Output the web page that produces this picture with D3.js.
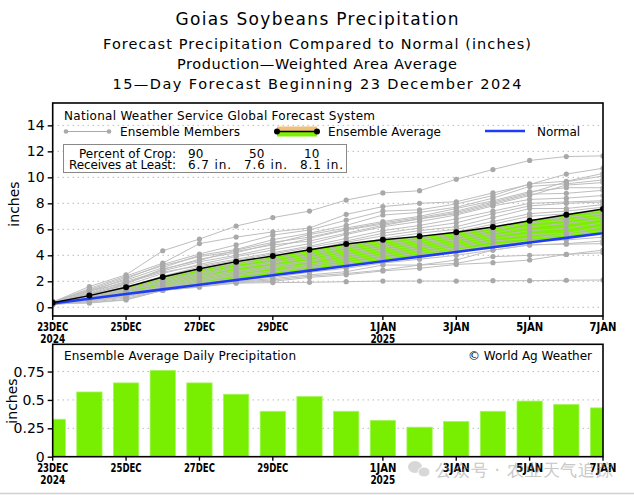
<!DOCTYPE html>
<html><head><meta charset="utf-8">
<script src="https://cdn.jsdelivr.net/npm/d3@7"></script>
<style>
body{margin:0;background:#fff}
svg{display:block}
text{font-family:"DejaVu Sans","Liberation Sans",sans-serif;fill:#000}
</style>
</head><body>
<svg id="c" width="634" height="495"></svg>
<script>
// ---------------- DATA ----------------
const dates = ["2024-12-23","2024-12-24","2024-12-25","2024-12-26","2024-12-27","2024-12-28","2024-12-29","2024-12-30",
               "2024-12-31","2025-01-01","2025-01-02","2025-01-03","2025-01-04","2025-01-05","2025-01-06","2025-01-07"];
const dailyAvg = [0.33,0.57,0.65,0.76,0.65,0.55,0.40,0.53,0.40,0.32,0.26,0.31,0.40,0.49,0.46,0.43];
const cumAvg   = [0.35,0.90,1.54,2.33,2.97,3.51,3.95,4.43,4.87,5.20,5.46,5.77,6.18,6.66,7.12,7.56];
const normal   = [0.30,0.66,1.02,1.38,1.74,2.10,2.46,2.82,3.18,3.54,3.90,4.26,4.62,4.98,5.34,5.70];
const members = [
  [0.40,1.60,2.50,4.35,5.25,6.25,6.90,7.40,8.25,8.80,8.97,9.85,10.60,11.30,11.60,11.65],
  [0.35,1.45,2.40,3.40,4.90,5.40,5.80,6.10,7.15,7.75,8.00,8.12,8.80,9.45,10.25,10.70],
  [0.30,1.20,2.20,3.30,4.10,4.80,5.55,5.95,6.70,7.40,7.50,7.95,8.60,9.50,9.70,10.30],
  [0.45,1.30,2.10,3.05,4.00,4.45,5.20,5.70,6.30,7.10,7.30,7.70,8.40,9.30,9.50,9.80],
  [0.25,0.95,1.80,2.90,3.70,4.20,4.90,5.60,6.10,6.60,7.00,7.60,8.20,8.90,9.20,9.20],
  [0.35,1.10,2.00,2.80,3.50,4.00,4.60,5.30,5.95,6.40,6.80,7.30,8.00,8.70,8.77,9.00],
  [0.30,1.00,1.70,2.60,3.30,3.90,4.40,4.90,5.60,6.20,6.60,7.10,7.80,8.30,8.40,8.60],
  [0.40,1.25,1.90,2.70,3.20,3.70,4.20,4.70,5.30,5.90,6.30,6.80,7.40,8.00,8.10,8.20],
  [0.20,0.80,1.50,2.40,3.10,3.60,4.10,4.60,5.10,5.70,6.10,6.50,7.20,7.80,8.00,8.10],
  [0.35,0.90,1.60,2.20,2.90,3.40,3.90,4.40,5.00,5.50,5.90,6.20,6.90,7.60,7.60,7.90],
  [0.30,0.85,1.40,2.10,2.70,3.30,3.70,4.20,4.70,5.30,5.70,6.00,6.60,7.20,7.40,7.70],
  [0.25,0.70,1.30,2.00,2.60,3.10,3.50,4.00,4.60,5.00,5.40,5.80,6.40,7.00,7.20,7.40],
  [0.30,0.75,1.20,1.90,2.50,3.00,3.40,3.80,4.40,4.80,5.20,5.60,6.10,6.70,6.90,7.20],
  [0.45,0.80,1.35,1.80,2.40,2.80,3.20,3.60,4.20,4.60,5.00,5.40,5.90,6.50,6.70,7.00],
  [0.20,0.60,1.10,1.70,2.30,2.70,3.10,3.50,4.00,4.40,4.80,5.20,5.70,6.20,6.45,6.80],
  [0.30,0.65,1.00,1.60,2.20,2.60,3.00,3.30,3.80,4.20,4.60,5.00,5.50,5.90,6.07,6.50],
  [0.35,0.70,1.15,1.55,2.10,2.50,2.80,3.20,3.60,4.00,4.40,4.80,5.30,5.60,5.69,6.20],
  [0.25,0.55,0.95,1.50,2.00,2.40,2.70,3.10,3.40,3.80,4.20,4.60,5.10,5.30,5.60,5.90],
  [0.30,0.60,0.90,1.45,1.90,2.20,2.50,2.90,3.20,3.60,4.00,4.40,4.80,5.10,5.18,5.40],
  [0.40,0.50,0.85,1.40,1.80,2.10,2.30,2.70,3.00,3.40,3.70,4.00,4.40,4.80,4.90,5.10],
  [0.20,0.45,0.80,1.35,1.70,2.00,2.20,2.50,2.74,3.25,3.25,3.64,4.40,4.80,4.85,4.90],
  [0.30,0.40,0.70,1.30,1.60,1.95,2.10,2.40,2.60,2.87,3.25,3.38,3.90,4.00,4.07,4.40],
  [0.25,0.35,0.60,1.30,1.55,1.90,2.00,2.30,2.50,2.80,3.00,3.30,3.43,3.64,4.07,4.20],
  [0.30,0.33,0.56,1.30,1.60,1.85,1.90,1.92,1.97,2.02,2.02,2.02,2.05,2.05,2.08,2.10],
  [0.35,1.05,1.85,2.95,3.60,4.40,5.00,5.40,6.00,6.50,6.90,7.40,8.10,8.80,9.66,10.10],
  [0.40,1.35,2.30,3.20,3.90,4.30,4.80,5.10,5.70,6.30,6.80,7.20,7.90,8.60,9.40,9.60]
];
const xTickDates  = ["2024-12-23","2024-12-25","2024-12-27","2024-12-29","2025-01-01","2025-01-03","2025-01-05","2025-01-07"];
const xTickLabels = ["23DEC","25DEC","27DEC","29DEC","1JAN","3JAN","5JAN","7JAN"];
const xTickYears  = ["2024","","","","2025","","",""];
const topTicks = [0,2,4,6,8,10,12,14];
const botTicks = [0,0.25,0.5,0.75];
const botTickLabels = ["0","0.25","0.5","0.75"];
const titleLines = ["Goias Soybeans Precipitation",
  "Forecast Precipitation Compared to Normal (inches)",
  "Production\u2014Weighted Area Average",
  "15\u2014Day Forecast Beginning 23 December 2024"];
const pctCrop = ["90","50","10"];
const atLeast = ["6.7 in.","7.6 in.","8.1 in."];

// ---------------- DRAW ----------------
const svg = d3.select("#c");
const parse = d3.utcParse("%Y-%m-%d");
const D = dates.map(parse);
const L = 52.7, R = 603;
const x = d3.scaleUtc().domain([D[0], D[D.length-1]]).range([L, R]);

// titles
const tSpec = [{y:25,fs:17,w:283},{y:49,fs:14.5,w:428},{y:69,fs:14.5,w:280},{y:89,fs:14.5,w:409}];
titleLines.forEach((t,i)=>{
  svg.append("text").attr("x",317).attr("y",tSpec[i].y).attr("text-anchor","middle")
    .attr("font-size",tSpec[i].fs).attr("textLength",tSpec[i].w).attr("lengthAdjust","spacing").text(t);
});

// ---------- top plot ----------
const T0 = 103, T1 = 316;
const y = d3.scaleLinear().domain([-0.67, 15.72]).range([T1, T0]);
svg.append("defs").append("clipPath").attr("id","ct").append("rect")
  .attr("x",L).attr("y",T0).attr("width",R-L).attr("height",T1-T0);
svg.select("defs").append("clipPath").attr("id","cb").append("rect")
  .attr("x",L).attr("y",344.3).attr("width",R-L).attr("height",456.7-344.3);

const gT = svg.append("g");
// grid
gT.selectAll(".g").data(topTicks).join("line")
  .attr("x1",L).attr("x2",R).attr("y1",d=>y(d)).attr("y2",d=>y(d))
  .attr("stroke","#999").attr("stroke-width",1).attr("stroke-dasharray","1,4");

const plot = gT.append("g").attr("clip-path","url(#ct)");
// green area between average and normal
const area = d3.area().x((d,i)=>x(D[i])).y0((d,i)=>y(normal[i])).y1((d,i)=>y(cumAvg[i]));
plot.append("path").datum(cumAvg).attr("d",area).attr("fill","#7cf000");

// members
const line = d3.line().x((d,i)=>x(D[i])).y(d=>y(d));
plot.selectAll(".m").data(members).join("path").attr("d",line)
  .attr("fill","none").attr("stroke","#bdbdbd").attr("stroke-width",1);
members.forEach(m=>{
  plot.append("g").selectAll("circle").data(m).join("circle")
    .attr("cx",(d,i)=>x(D[i])).attr("cy",d=>y(d)).attr("r",2.6).attr("fill","#a9a9a9");
});
// normal
plot.append("path").datum(normal).attr("d",line).attr("fill","none").attr("stroke","#1f3cf5").attr("stroke-width",2.6);
// average
plot.append("path").datum(cumAvg).attr("d",line).attr("fill","none").attr("stroke","#000").attr("stroke-width",1.4);
plot.selectAll(".a").data(cumAvg).join("circle").attr("cx",(d,i)=>x(D[i])).attr("cy",d=>y(d)).attr("r",3).attr("fill","#000");

// frame
gT.append("rect").attr("x",L).attr("y",T0).attr("width",R-L).attr("height",T1-T0)
  .attr("fill","none").attr("stroke","#000").attr("stroke-width",1.6);

// y axis
const yAx = gT.append("g").attr("transform",`translate(${L},0)`)
  .call(d3.axisLeft(y).tickValues(topTicks).tickSize(5).tickPadding(3).tickFormat(d3.format("d")));
yAx.select(".domain").remove();
yAx.selectAll("text").attr("font-size",14).attr("font-family","Liberation Sans, Arial, sans-serif");
yAx.selectAll("line").attr("stroke-width",1.4);
svg.append("text").attr("transform","translate(19,204) rotate(-90)").attr("text-anchor","middle")
  .attr("font-size",14).text("inches");

// x axis labels
function xAxis(gy){
  const g = svg.append("g");
  xTickDates.forEach((s,i)=>{
    const xx = x(parse(s));
    g.append("line").attr("x1",xx).attr("x2",xx).attr("y1",gy).attr("y2",gy+4).attr("stroke","#000").attr("stroke-width",1.4);
    g.append("text").attr("x",xx).attr("y",gy+15).attr("text-anchor","middle")
      .attr("font-family","Liberation Sans, Arial, sans-serif").attr("font-weight","bold").attr("font-size",12)
      .attr("textLength",xTickLabels[i].length>4?31:27).attr("lengthAdjust","spacingAndGlyphs").text(xTickLabels[i]);
    if(xTickYears[i]) g.append("text").attr("x",xx).attr("y",gy+27).attr("text-anchor","middle")
      .attr("font-family","Liberation Sans, Arial, sans-serif").attr("font-weight","bold").attr("font-size",12)
      .attr("textLength",25).attr("lengthAdjust","spacingAndGlyphs").text(xTickYears[i]);
  });
}
xAxis(T1);

// legend
svg.append("text").attr("x",64).attr("y",119.5).attr("font-size",12).attr("textLength",311).attr("lengthAdjust","spacing")
  .text("National Weather Service Global Forecast System");
svg.append("line").attr("x1",66).attr("x2",109).attr("y1",131.5).attr("y2",131.5).attr("stroke","#aaa").attr("stroke-width",1);
[66,109].forEach(cx=>svg.append("circle").attr("cx",cx).attr("cy",131.5).attr("r",2.3).attr("fill","#aaa"));
svg.append("text").attr("x",120).attr("y",136).attr("font-size",12).attr("textLength",120).attr("lengthAdjust","spacing").text("Ensemble Members");
svg.append("rect").attr("x",277).attr("y",126.5).attr("width",40).attr("height",5).attr("fill","#f0c07a");
svg.append("rect").attr("x",277).attr("y",131.5).attr("width",40).attr("height",5).attr("fill","#7cf000");
svg.append("line").attr("x1",277).attr("x2",317).attr("y1",131.5).attr("y2",131.5).attr("stroke","#000").attr("stroke-width",1.4);
[277,317].forEach(cx=>svg.append("circle").attr("cx",cx).attr("cy",131.5).attr("r",3).attr("fill","#000"));
svg.append("text").attr("x",328).attr("y",136).attr("font-size",12).attr("textLength",113).attr("lengthAdjust","spacing").text("Ensemble Average");
svg.append("line").attr("x1",485).attr("x2",525).attr("y1",131).attr("y2",131).attr("stroke","#1f3cf5").attr("stroke-width",2.6);
svg.append("text").attr("x",537).attr("y",136).attr("font-size",12).attr("textLength",43).attr("lengthAdjust","spacing").text("Normal");

// percent box
svg.append("rect").attr("x",63.5).attr("y",144.5).attr("width",283).attr("height",28).attr("fill","#fff").attr("stroke","#888").attr("stroke-width",1);
svg.append("text").attr("x",79).attr("y",158).attr("font-size",12).attr("textLength",97).attr("lengthAdjust","spacing").text("Percent of Crop:");
svg.append("text").attr("x",69).attr("y",169).attr("font-size",12).attr("textLength",107).attr("lengthAdjust","spacing").text("Receives at Least:");
const pcX = [188,249,304], alX = [188,244,300];
pctCrop.forEach((p,i)=>svg.append("text").attr("x",pcX[i]).attr("y",158).attr("font-size",12).text(p));
atLeast.forEach((p,i)=>svg.append("text").attr("x",alX[i]).attr("y",169).attr("font-size",12).attr("textLength",43).attr("lengthAdjust","spacing").text(p));

// ---------- bottom plot ----------
const B0 = 344.3, B1 = 456.7;
const yb = d3.scaleLinear().domain([0, 0.99]).range([B1, B0]);
const gB = svg.append("g");
gB.selectAll(".g").data(botTicks.slice(1)).join("line")
  .attr("x1",L).attr("x2",R).attr("y1",d=>yb(d)).attr("y2",d=>yb(d))
  .attr("stroke","#999").attr("stroke-width",1).attr("stroke-dasharray","1,4");
const dayW = x(D[1]) - x(D[0]);
const bw = dayW*0.69;
gB.append("g").attr("clip-path","url(#cb)").selectAll("rect").data(dailyAvg).join("rect")
  .attr("x",(d,i)=>x(D[i])-bw/2).attr("width",bw).attr("y",d=>yb(d)).attr("height",d=>B1-yb(d))
  .attr("fill","#78ee00").attr("stroke","#a6f560").attr("stroke-width",0.8);
gB.append("rect").attr("x",L).attr("y",B0).attr("width",R-L).attr("height",B1-B0)
  .attr("fill","none").attr("stroke","#000").attr("stroke-width",1.6);
const ybAx = gB.append("g").attr("transform",`translate(${L},0)`)
  .call(d3.axisLeft(yb).tickValues(botTicks).tickSize(5).tickPadding(3).tickFormat((d,i)=>botTickLabels[i]));
ybAx.select(".domain").remove();
ybAx.selectAll("text").attr("font-size",14).attr("font-family","Liberation Sans, Arial, sans-serif");
ybAx.selectAll("line").attr("stroke-width",1.4);
svg.append("text").attr("transform","translate(17,401) rotate(-90)").attr("text-anchor","middle")
  .attr("font-size",14).text("inches");
svg.append("text").attr("x",64).attr("y",360).attr("font-size",12).attr("textLength",232).attr("lengthAdjust","spacing").text("Ensemble Average Daily Precipitation");
svg.append("text").attr("x",468).attr("y",359.5).attr("font-size",12).attr("textLength",124).attr("lengthAdjust","spacing").text("\u00a9 World Ag Weather");
xAxis(B1);

// bottom border line of image
svg.append("line").attr("x1",0).attr("x2",634).attr("y1",493.5).attr("y2",493.5).attr("stroke","#d0d0d0").attr("stroke-width",1.5);

// watermark
const wm = svg.append("g").attr("opacity",0.55);
wm.append("ellipse").attr("cx",415).attr("cy",467).attr("rx",7).attr("ry",6).attr("fill","#b8b8b8");
wm.append("ellipse").attr("cx",424).attr("cy",472).attr("rx",6).attr("ry",5).attr("fill","#b8b8b8").attr("stroke","#fff").attr("stroke-width",1);
wm.append("text").attr("x",435).attr("y",476).attr("font-size",17)
  .attr("font-family","Noto Sans CJK SC, sans-serif").style("fill","#9a9a9a")
  .attr("textLength",178).attr("lengthAdjust","spacing").text("公众号 · 农业天气追踪");
</script>
</body></html>
